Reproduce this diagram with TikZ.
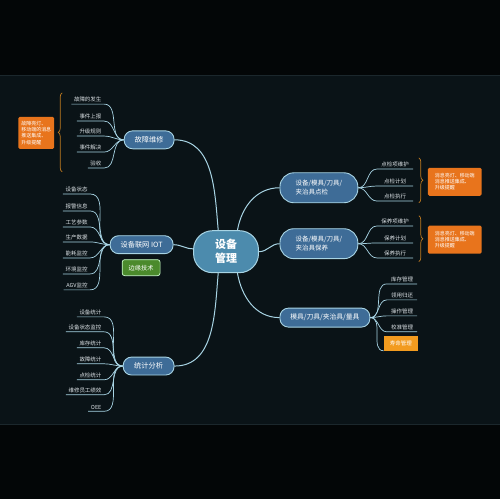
\documentclass[tikz,border=0pt]{standalone}
\usepackage{fontspec}
\setmainfont{Noto Sans CJK SC}
\usetikzlibrary{positioning,decorations.pathreplacing}
\definecolor{bgout}{HTML}{030607}
\definecolor{bgin}{HTML}{0A1317}
\definecolor{bgrule}{HTML}{1B272C}
\definecolor{linkc}{HTML}{A8D4E4}
\definecolor{rootc}{HTML}{4C8BAD}
\definecolor{topicc}{HTML}{3E6C97}
\definecolor{greenc}{HTML}{4B8A2C}
\definecolor{orangec}{HTML}{E8741C}
\definecolor{amberc}{HTML}{F29B1F}
\definecolor{bracec}{HTML}{BF7A20}
\definecolor{leaftext}{HTML}{DCE2E6}
\tikzset{
  root/.style={draw=linkc, line width=1pt, fill=rootc, text=white, align=center,
    font=\fontsize{11}{14}\selectfont\bfseries, minimum width=65pt, minimum height=42pt,
    rounded corners=19pt, inner sep=2pt},
  topic/.style={draw=linkc, line width=0.9pt, fill=topicc, text=white,
    font=\fontsize{7.2}{8.5}\selectfont, minimum height=18pt, rounded corners=8.5pt, inner sep=2pt},
  topictwo/.style={topic, align=left, minimum width=78pt, minimum height=30pt,
    rounded corners=14pt, font=\fontsize{6.5}{9}\selectfont},
  edgetag/.style={draw=white!80!green, line width=0.7pt, fill=greenc, text=white,
    font=\fontsize{6.2}{7}\selectfont, minimum width=38pt, minimum height=16pt, rounded corners=2.5pt},
  leaf/.style={text=leaftext, font=\fontsize{5.5}{6}\selectfont, inner xsep=2.5pt, inner ysep=1.5pt},
  link/.style={draw=linkc, line width=1pt},
  twig/.style={draw=linkc, line width=0.7pt},
  note/.style={fill=orangec, rounded corners=1.5pt, text=white, align=left,
    font=\fontsize{5}{6.2}\selectfont, inner sep=2.5pt},
  notebrace/.style={draw=bracec, line width=0.7pt, decorate, decoration={brace, amplitude=4pt}},
}
\begin{document}
\begin{tikzpicture}[x=1pt,y=1pt]
  % background
  \fill[bgout] (0,0) rectangle (500,500);
  \fill[bgin] (0,75) rectangle (500,425);
  \draw[bgrule, line width=0.6pt] (0,425) -- (500,425) (0,75) -- (500,75);
  \useasboundingbox (0,0) rectangle (500,500);

  % main topics
  \node[root] (root) at (226,248) {设备\\管理};
  \node[topic, minimum width=50pt] (fault) at (149,360) {故障维修};
  \node[topic, minimum width=63pt] (iot) at (141.5,255) {设备联网 IOT};
  \node[edgetag] (edge) at (141,232) {边缘技术};
  \node[topic, minimum width=51pt] (stat) at (148.5,133.5) {统计分析};
  \node[topictwo] (check) at (319,312) {设备/模具/刀具/\\夹治具点检};
  \node[topictwo] (maint) at (319,256) {设备/模具/刀具/\\夹治具保养};
  \node[topic, minimum width=90pt, minimum height=19pt, font=\fontsize{6.8}{8}\selectfont] (tool) at (325,182) {模具/刀具/夹治具/量具};

  \draw[link] (root.110) to[out=95,in=0] (fault.east);
  \draw[link] (root.175) to[out=180,in=0] (iot.east);
  \draw[link] (root.250) to[out=-95,in=0] (stat.east);
  \draw[link] (root.62) to[out=80,in=180] (check.west);
  \draw[link] (root.east) to[out=0,in=180] (maint.west);
  \draw[link] (root.-62) to[out=-80,in=180] (tool.west);

  % left branches
  \foreach \lbl/\y [count=\i] in {故障的发生/400, 事件上报/383, 升级规则/368, 事件解决/352, 验收/336} {
    \node[leaf, anchor=east] (flt\i) at (104,\y) {\lbl};
    \draw[twig] (flt\i.south west) -- (flt\i.south east) to[out=0,in=180] (fault.west);
  }
  \foreach \lbl/\y [count=\i] in {设备状态/310, 报警信息/293, 工艺参数/277, 生产数据/262, 能耗监控/246, 环境监控/230, AGV监控/214} {
    \node[leaf, anchor=east] (dev\i) at (90,\y) {\lbl};
    \draw[twig] (dev\i.south west) -- (dev\i.south east) to[out=0,in=180] (iot.west);
  }
  \foreach \lbl/\y [count=\i] in {设备统计/187, 设备状态监控/172, 库存统计/156, 故障统计/140, 点检统计/124, 维修员工绩效/109, OEE/92} {
    \node[leaf, anchor=east] (sta\i) at (104,\y) {\lbl};
    \draw[twig] (sta\i.south west) -- (sta\i.south east) to[out=0,in=180] (stat.west);
  }

  % right branches
  \foreach \lbl/\y [count=\i] in {点检项维护/335, 点检计划/318, 点检执行/303} {
    \node[leaf, anchor=west, minimum width=36pt] (chk\i) at (377,\y) {\lbl};
    \draw[twig] (check.east) to[out=0,in=180] (chk\i.south west) -- (chk\i.south east);
  }
  \foreach \lbl/\y [count=\i] in {保养项维护/278, 保养计划/261, 保养执行/246} {
    \node[leaf, anchor=west, minimum width=36pt] (mnt\i) at (377,\y) {\lbl};
    \draw[twig] (maint.east) to[out=0,in=180] (mnt\i.south west) -- (mnt\i.south east);
  }
  \foreach \lbl/\y [count=\i] in {库存管理/220, 领用归还/204, 操作管理/188, 校准管理/172} {
    \node[leaf, anchor=west, minimum width=30pt] (tl\i) at (387,\y) {\lbl};
    \draw[twig] (tool.east) to[out=0,in=180] (tl\i.south west) -- (tl\i.south east);
  }
  \node[leaf, fill=amberc, text=white, minimum width=34pt, minimum height=15pt] (life) at (401,156.5) {寿命管理};
  \draw[twig] (tool.east) to[out=0,in=180] (life.south west);

  % notes
  \node[note, minimum width=36pt, minimum height=32pt] (faultnote) at (36,367) {故障亮灯、\\移动端的消息\\推送集成、\\升级提醒};
  \node[note, minimum width=54pt, minimum height=28pt] (checknote) at (455,318) {消息亮灯、移动端\\消息推送集成、\\升级提醒};
  \node[note, minimum width=54pt, minimum height=28pt] (maintnote) at (455,260) {消息亮灯、移动端\\消息推送集成、\\升级提醒};
  \coordinate (fb1) at (62,328); \coordinate (fb2) at (62,407);
  \coordinate (cb1) at (419,342); \coordinate (cb2) at (419,297);
  \coordinate (mb1) at (419,284); \coordinate (mb2) at (419,238);
  \draw[notebrace] (fb1) -- (fb2);
  \draw[notebrace] (cb1) -- (cb2);
  \draw[notebrace] (mb1) -- (mb2);
\end{tikzpicture}
\end{document}
